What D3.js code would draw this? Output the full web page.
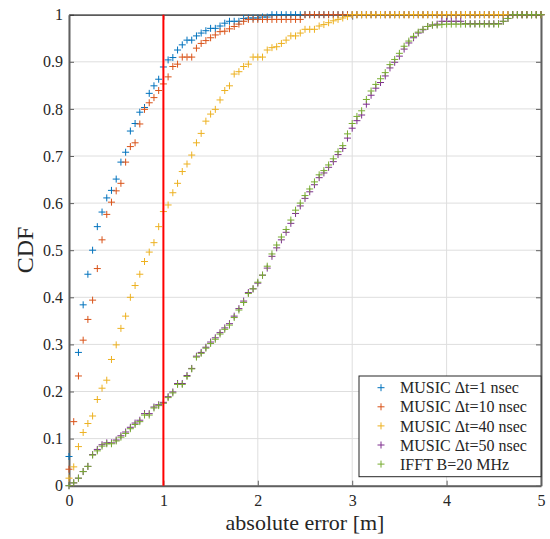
<!DOCTYPE html>
<html>
<head>
<meta charset="utf-8">
<script src="https://cdn.jsdelivr.net/npm/d3@7"></script>
<style>
  body { margin: 0; background: #fff; }
  text { font-family: "Liberation Serif", "Times New Roman", serif; fill: #262626; }
</style>
</head>
<body>
<div id="container"></div>
<script>
// evaluation grid of the error axis [m]
let errGrid = [0, 0.05, 0.1, 0.15, 0.2, 0.25, 0.3, 0.35, 0.4, 0.45,
  0.5, 0.55, 0.6, 0.65, 0.7, 0.75, 0.8, 0.85, 0.9, 0.95,
  1, 1.05, 1.1, 1.15, 1.2, 1.25, 1.3, 1.35, 1.4, 1.45,
  1.5, 1.55, 1.6, 1.65, 1.7, 1.75, 1.8, 1.85, 1.9, 1.95,
  2, 2.05, 2.1, 2.15, 2.2, 2.25, 2.3, 2.35, 2.4, 2.45,
  2.5, 2.55, 2.6, 2.65, 2.7, 2.75, 2.8, 2.85, 2.9, 2.95,
  3, 3.05, 3.1, 3.15, 3.2, 3.25, 3.3, 3.35, 3.4, 3.45,
  3.5, 3.55, 3.6, 3.65, 3.7, 3.75, 3.8, 3.85, 3.9, 3.95,
  4, 4.05, 4.1, 4.15, 4.2, 4.25, 4.3, 4.35, 4.4, 4.45,
  4.5, 4.55, 4.6, 4.65, 4.7, 4.75, 4.8, 4.85, 4.9, 4.95, 5];

// CDF values read at each grid point (null = no marker)
let music1 = [0.062, null, 0.283, 0.384, 0.449, 0.50, 0.55, 0.581, 0.611, 0.627,
  0.651, 0.687, 0.708, 0.753, 0.769, 0.793, 0.803, 0.833, 0.849, 0.863,
  0.889, 0.904, 0.909, 0.925, 0.936, 0.946, 0.946, 0.955, 0.961, 0.966,
  0.971, 0.971, 0.976, 0.982, 0.986, 0.986, 0.986, 0.992, 0.993, 0.993,
  0.993, 0.995, 0.995, 1, 1, 1, 1, 1, 1, 1,
  1, 1, 1, 1, 1, 1, 1, 1, 1, 1,
  1, 1, 1, 1, 1, 1, 1, 1, 1, 1,
  1, 1, 1, 1, 1, 1, 1, 1, 1, 1,
  1, 1, 1, 1, 1, 1, 1, 1, 1, 1,
  1, 1, 1, 1, 1, 1, 1, 1, 1, 1, 1];

let music10 = [0.035, 0.136, 0.233, 0.309, 0.353, 0.394, 0.461, 0.522, 0.576, 0.602,
  0.626, 0.642, 0.687, 0.72, 0.728, 0.768, 0.799, 0.813, 0.824, 0.839,
  0.853, 0.868, 0.89, 0.895, 0.91, 0.91, 0.91, 0.929, 0.939, 0.945,
  0.951, 0.957, 0.964, 0.965, 0.97, 0.975, 0.98, 0.986, 0.99, 0.99,
  0.99, 0.99, 0.99, 0.99, 0.99, 0.99, 0.99, 0.99, 0.99, 0.99,
  1, 1, 1, 1, 1, 1, 1, 1, 1, 1,
  1, 1, 1, 1, 1, 1, 1, 1, 1, 1,
  1, 1, 1, 1, 1, 1, 1, 1, 1, 1,
  1, 1, 1, 1, 1, 1, 1, 1, 1, 1,
  1, 1, 1, 1, 1, 1, 1, 1, 1, 1, 1];

let music40 = [0.016, 0.040, 0.083, 0.113, 0.132, 0.148, 0.183, 0.207, 0.224, 0.268,
  0.299, 0.334, 0.36, 0.40, 0.425, 0.449, 0.476, 0.496, 0.516, 0.55,
  0.582, 0.596, 0.622, 0.642, 0.667, 0.683, 0.702, 0.728, 0.748, 0.774,
  0.789, 0.799, 0.819, 0.839, 0.849, 0.874, 0.879, 0.89, 0.895, 0.91,
  0.91, 0.91, 0.925, 0.93, 0.932, 0.939, 0.946, 0.955, 0.955, 0.961,
  0.969, 0.969, 0.969, 0.976, 0.979, 0.983, 0.987, 0.99, 0.993, 0.996,
  1, 1, 1, 1, 1, 1, 1, 1, 1, 1,
  1, 1, 1, 1, 1, 1, 1, 1, 1, 1,
  1, 1, 1, 1, 1, 1, 1, 1, 1, 1,
  1, 1, 1, 1, 1, 1, 1, 1, 1, 1, 1];

let music50 = [0, 0.006, 0.016, 0.03, 0.041, 0.066, 0.077, 0.087, 0.091, 0.091,
  0.097, 0.106, 0.114, 0.124, 0.133, 0.139, 0.153, 0.153, 0.167, 0.172,
  0.177, 0.189, 0.199, 0.217, 0.217, 0.234, 0.249, 0.275, 0.283, 0.294,
  0.305, 0.314, 0.325, 0.335, 0.344, 0.36, 0.376, 0.392, 0.41, 0.418,
  0.43, 0.447, 0.462, 0.487, 0.505, 0.522, 0.538, 0.557, 0.578, 0.594,
  0.61, 0.624, 0.639, 0.654, 0.664, 0.676, 0.688, 0.703, 0.716, 0.738,
  0.759, 0.775, 0.787, 0.81, 0.829, 0.844, 0.856, 0.87, 0.887, 0.899,
  0.912, 0.927, 0.94, 0.951, 0.961, 0.968, 0.975, 0.978, 0.98, 0.986,
  0.986, 0.986, 0.986, 0.986, 0.981, 0.981, 0.981, 0.981, 0.981, 0.981,
  0.981, 0.981, 0.986, 0.992, 1, 1, 1, 1, 1, 1, 1];

let ifft20 = [0, 0.006, 0.016, 0.03, 0.041, 0.065, 0.074, 0.084, 0.089, 0.089,
  0.095, 0.103, 0.111, 0.121, 0.13, 0.136, 0.15, 0.15, 0.165, 0.17,
  0.175, 0.187, 0.197, 0.215, 0.215, 0.232, 0.248, 0.273, 0.281, 0.292,
  0.302, 0.311, 0.322, 0.332, 0.341, 0.357, 0.373, 0.389, 0.408, 0.418,
  0.432, 0.447, 0.466, 0.492, 0.511, 0.528, 0.544, 0.564, 0.585, 0.60,
  0.616, 0.63, 0.645, 0.66, 0.669, 0.681, 0.694, 0.709, 0.722, 0.747,
  0.769, 0.784, 0.796, 0.82, 0.838, 0.852, 0.864, 0.877, 0.894, 0.905,
  0.918, 0.933, 0.944, 0.954, 0.963, 0.969, 0.975, 0.978, 0.978, 0.979,
  0.98, 0.98, 0.98, 0.98, 0.98, 0.98, 0.98, 0.98, 0.98, 0.98,
  0.98, 0.98, 0.986, 0.992, 1, 1, 1, 1, 1, 1, 1];

let seriesNames = ['MUSIC \u0394t=1 nsec', 'MUSIC \u0394t=10 nsec', 'MUSIC \u0394t=40 nsec',
  'MUSIC \u0394t=50 nsec', 'IFFT B=20 MHz'];
let seriesColors = ['#0072BD', '#D95319', '#EDB120', '#7E2F8E', '#77AC30'];
let seriesValues = [music1, music10, music40, music50, ifft20];

let xTicks = [0, 1, 2, 3, 4, 5];
let yTicks = [0, 0.1, 0.2, 0.3, 0.4, 0.5, 0.6, 0.7, 0.8, 0.9, 1];
let markLine = 1; // red reference line at 1 m

let w = 550;
let h = 539;
let margin = { top: 14.7, right: 9, bottom: 53.3, left: 69 };
let serif = '"Liberation Serif", "Times New Roman", serif';

let svg = d3.select('#container')
  .append('svg')
    .attr('width', w)
    .attr('height', h);

let x = d3.scaleLinear().domain([0, 5]).range([margin.left, w - margin.right]);
let y = d3.scaleLinear().domain([0, 1]).range([h - margin.bottom, margin.top]);

// grid
svg.append('g').selectAll('line').data(xTicks).enter()
  .append('line')
    .attr('x1', d => x(d)).attr('x2', d => x(d))
    .attr('y1', y(0)).attr('y2', y(1))
    .attr('stroke', '#dedede').attr('stroke-width', 1);
svg.append('g').selectAll('line').data(yTicks).enter()
  .append('line')
    .attr('x1', x(0)).attr('x2', x(5))
    .attr('y1', d => y(d)).attr('y2', d => y(d))
    .attr('stroke', '#dedede').attr('stroke-width', 1);

// axes with inward ticks
function styleAxis(g, col, sw) {
  g.select('.domain').attr('stroke', col).attr('stroke-width', sw);
  g.selectAll('.tick line').attr('stroke', '#606060');
  g.selectAll('text').attr('font-size', 16).attr('fill', '#262626')
    .style('font-family', serif);
}
svg.append('g')
  .attr('transform', 'translate(0,' + y(0) + ')')
  .call(d3.axisBottom(x).tickValues(xTicks).tickSizeInner(-5).tickSizeOuter(0).tickPadding(9).tickFormat(d3.format('d')))
  .call(g => styleAxis(g, '#606060', 2));
svg.append('g')
  .attr('transform', 'translate(' + x(0) + ',0)')
  .call(d3.axisLeft(y).tickValues(yTicks).tickSizeInner(-5).tickSizeOuter(0).tickPadding(6).tickFormat(d3.format('~g')))
  .call(g => styleAxis(g, '#606060', 2));
svg.append('g')
  .attr('transform', 'translate(' + x(5) + ',0)')
  .call(d3.axisRight(y).tickValues(yTicks).tickSizeInner(-5).tickSizeOuter(0).tickFormat(''))
  .call(g => styleAxis(g, '#606060', 2));
svg.append('g')
  .attr('transform', 'translate(0,' + y(1) + ')')
  .call(d3.axisTop(x).tickValues(xTicks).tickSizeInner(-5).tickSizeOuter(0).tickFormat(''))
  .call(g => styleAxis(g, '#262626', 1.2));

// plus markers
let plus = 'M-3.5,0H3.5M0,-3.5V3.5';
seriesValues.forEach((vals, s) => {
  let pts = errGrid.map((e, i) => ({ e: e, v: vals[i] })).filter(d => d.v !== null);
  svg.append('g').selectAll('path').data(pts).enter()
    .append('path')
      .attr('d', plus)
      .attr('transform', d => 'translate(' + x(d.e) + ',' + y(d.v) + ')')
      .attr('stroke', seriesColors[s])
      .attr('stroke-width', 1)
      .attr('fill', 'none');
});

// red line at 1 m, on top of the markers
svg.append('line')
  .attr('x1', x(markLine)).attr('x2', x(markLine))
  .attr('y1', y(0)).attr('y2', y(1))
  .attr('stroke', '#ff0000').attr('stroke-width', 2);

// axis labels
svg.append('text')
  .attr('transform', 'translate(33,250) rotate(-90)')
  .attr('text-anchor', 'middle')
  .attr('font-size', 24)
  .style('font-family', serif)
  .text('CDF');
svg.append('text')
  .attr('x', (x(0) + x(5)) / 2)
  .attr('y', 530)
  .attr('text-anchor', 'middle')
  .attr('font-size', 22)
  .style('font-family', serif)
  .text('absolute error [m]');

// legend
let legend = svg.append('g').attr('transform', 'translate(359,376)');
legend.append('rect')
  .attr('width', x(5) - 359).attr('height', 100.7)
  .attr('fill', '#fff').attr('stroke', '#262626').attr('stroke-width', 1);
seriesNames.forEach((name, i) => {
  let row = legend.append('g').attr('transform', 'translate(0,' + (11.7 + i * 19.1) + ')');
  row.append('path').attr('d', plus).attr('transform', 'translate(22,0)')
    .attr('stroke', seriesColors[i]).attr('stroke-width', 1);
  row.append('text').attr('x', 41).attr('dy', '0.35em').attr('font-size', 16)
    .style('font-family', serif).text(name);
});
</script>
</body>
</html>
